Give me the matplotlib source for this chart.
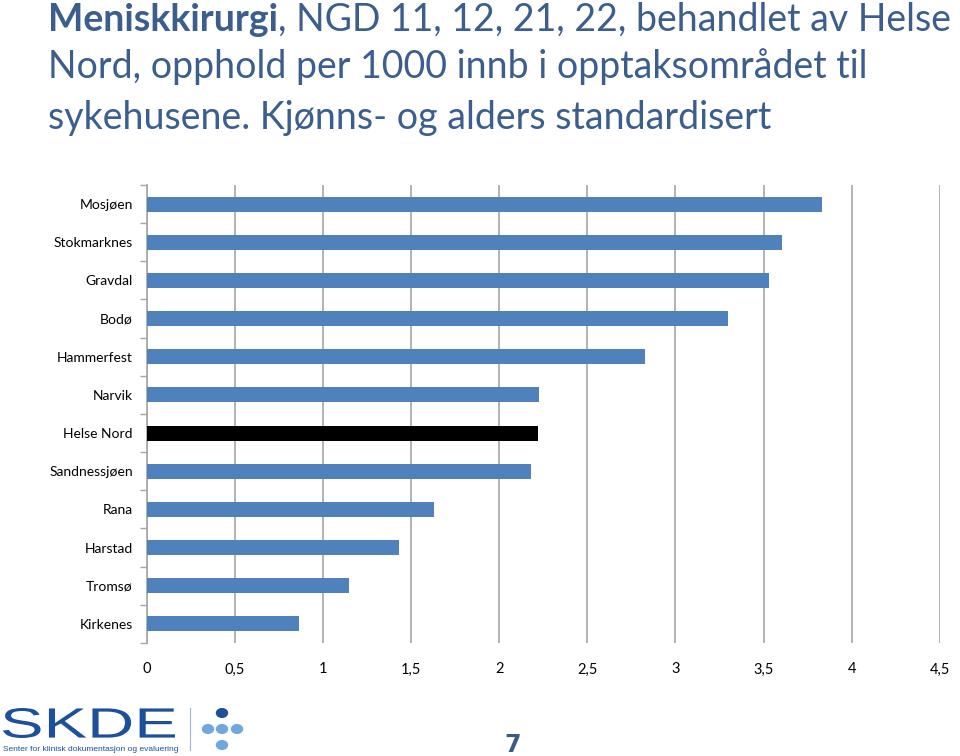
import matplotlib

matplotlib.use("Agg")
import matplotlib.pyplot as plt
import numpy as np
from matplotlib.font_manager import FontProperties
from matplotlib.patches import Circle, PathPatch
from matplotlib.textpath import TextPath
from matplotlib.transforms import Affine2D

# Data (top to bottom as shown)
hospitals = [
    "Mosjøen", "Stokmarknes", "Gravdal", "Bodø", "Hammerfest", "Narvik",
    "Helse Nord", "Sandnessjøen", "Rana", "Harstad", "Tromsø", "Kirkenes",
]
rates = [3.83, 3.605, 3.53, 3.30, 2.827, 2.227, 2.219, 2.18, 1.632, 1.434, 1.146, 0.865]
x_ticks = [0, 0.5, 1, 1.5, 2, 2.5, 3, 3.5, 4, 4.5]
x_tick_labels = ["0", "0,5", "1", "1,5", "2", "2,5", "3", "3,5", "4", "4,5"]

BAR_BLUE = "#4f81bd"
TITLE_BLUE = "#3b5e8f"
LOGO_BLUE = "#1c4f9c"
GRID_GREY = "#a6a6a6"
FONT = ["Lato", "DejaVu Sans"]
W, H = 960, 756

fig = plt.figure(figsize=(W / 100, H / 100), dpi=100, facecolor="white")
ax = fig.add_axes([0.1528, 0.1495, 0.979 - 0.1528, 0.7553 - 0.1495])

n = len(hospitals)
y = np.arange(n)[::-1]
colours = ["black" if h == "Helse Nord" else BAR_BLUE for h in hospitals]
ax.barh(y, rates, height=0.39, color=colours, zorder=3)

ax.set_xlim(0, 4.5)
ax.set_ylim(-0.5, n - 0.5)
ax.set_xticks(x_ticks, x_tick_labels, fontsize=10.5, family=FONT)
ax.set_yticks(y, hospitals, fontsize=10, family=FONT)
ax.tick_params(axis="y", length=0, pad=10)
ax.tick_params(axis="x", length=0, pad=14)
ax.set_yticks(np.arange(-0.5, n, 1.0), minor=True)
ax.tick_params(axis="y", which="minor", length=5, color=GRID_GREY, width=1)
ax.grid(axis="x", color=GRID_GREY, lw=1.2, zorder=0)
for s in ("top", "right", "bottom"):
    ax.spines[s].set_visible(False)
ax.spines["left"].set_color(GRID_GREY)
ax.spines["left"].set_linewidth(1.2)

# Title, first word bold
title_kw = dict(fontsize=27, color=TITLE_BLUE, family=FONT, va="baseline")
t1 = fig.text(48 / W, 1 - 31 / H, "Meniskkirurgi", fontweight="bold", **title_kw)
fig.canvas.draw()
bb = t1.get_window_extent()
fig.text(bb.x1 / W, 1 - 31 / H, ", NGD 11, 12, 21, 22, behandlet av Helse", **title_kw)
fig.text(48 / W, 1 - 78 / H, "Nord, opphold per 1000 innb i opptaksområdet til", **title_kw)
fig.text(48 / W, 1 - 129 / H, "sykehusene. Kjønns- og alders standardisert", **title_kw)

# Footer logo: stretched "SKDE" lettering
tp = TextPath((0, 0), "SKDE", size=1, prop=FontProperties(family="Liberation Sans"))
ext = tp.get_extents()
sx = 172 / ext.width
sy = 30 / ext.height
logo_tf = Affine2D().translate(-ext.x0, -ext.y0).scale(sx / W, sy / H).translate(3 / W, 1 - 738 / H)
fig.add_artist(PathPatch(tp, transform=logo_tf + fig.transFigure, color=LOGO_BLUE, lw=0))
fig.text(3 / W, 1 - 751 / H, "Senter for klinisk dokumentasjon og evaluering",
         fontsize=6, color=LOGO_BLUE, family=["Liberation Sans Narrow", "Liberation Sans"],
         va="baseline")
fig.add_artist(plt.Line2D([190 / W, 190 / W], [1 - 750 / H, 1 - 708 / H],
                          color="#9fb6d6", lw=0.8))
for cx, cy, c in [(222, 713, LOGO_BLUE), (208, 729, "#6fa8dc"), (222, 729, "#6fa8dc"),
                  (237, 729, "#6fa8dc"), (222, 745, "#6fa8dc")]:
    fig.add_artist(Circle((cx / W, 1 - cy / H), 5.5 / W, transform=fig.transFigure, color=c))
fig.text(513 / W, 1 - 752 / H, "7", fontsize=17, fontweight="bold", color="#3b5a85",
         family=["DejaVu Sans"], ha="center", va="baseline")

fig.savefig("out.png", dpi=100, facecolor="white")
